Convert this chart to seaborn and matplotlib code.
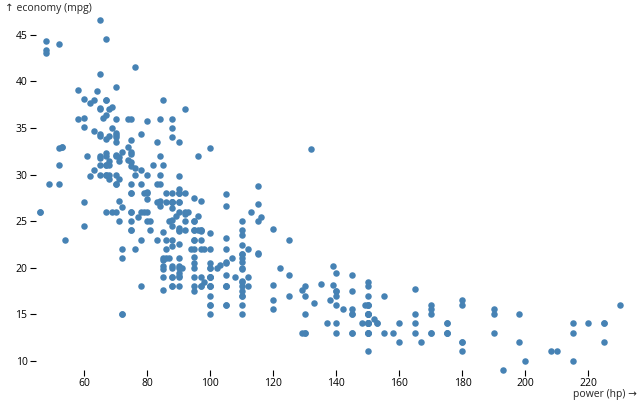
import numpy as np
import pandas as pd
import matplotlib
matplotlib.use("Agg")
import matplotlib.pyplot as plt
import seaborn as sns

# horsepower / mpg, cars with a known power and economy
horsepower = [
    130, 165, 150, 150, 140, 198, 220, 215, 225, 190, 170, 160, 150, 225, 95, 95, 97, 85, 88, 46,
    87, 90, 95, 113, 90, 215, 200, 210, 193, 88, 90, 95, 100, 105, 100, 88, 100, 165, 175, 153,
    150, 180, 170, 175, 110, 72, 100, 88, 86, 90, 70, 76, 65, 69, 60, 70, 95, 80, 54, 90,
    86, 165, 175, 150, 153, 150, 208, 155, 160, 190, 97, 150, 130, 140, 150, 112, 76, 87, 69, 86,
    92, 97, 80, 88, 175, 150, 145, 137, 150, 198, 150, 158, 150, 215, 225, 175, 105, 100, 100, 88,
    95, 46, 150, 167, 170, 180, 100, 88, 72, 94, 90, 85, 107, 90, 145, 230, 49, 75, 91, 112,
    150, 110, 122, 180, 95, 100, 100, 67, 80, 65, 75, 100, 110, 105, 140, 150, 150, 140, 150, 83,
    67, 78, 52, 61, 75, 75, 75, 97, 93, 67, 95, 105, 72, 72, 170, 145, 150, 148, 110, 105,
    110, 95, 110, 110, 129, 75, 83, 100, 78, 96, 71, 97, 97, 70, 90, 95, 88, 98, 115, 53,
    86, 81, 92, 79, 83, 140, 150, 120, 152, 100, 105, 81, 90, 52, 60, 70, 53, 100, 78, 110,
    95, 71, 70, 75, 72, 102, 150, 88, 108, 120, 180, 145, 130, 150, 68, 80, 58, 96, 70, 145,
    110, 145, 130, 110, 105, 100, 98, 180, 170, 190, 149, 78, 88, 75, 89, 63, 83, 67, 78, 97,
    110, 110, 48, 66, 52, 70, 60, 110, 140, 139, 105, 95, 85, 88, 100, 90, 105, 85, 110, 120,
    145, 165, 139, 140, 68, 95, 97, 75, 95, 105, 85, 97, 103, 125, 115, 133, 71, 68, 115, 85,
    88, 90, 110, 130, 129, 138, 135, 155, 142, 125, 150, 71, 65, 80, 80, 77, 125, 71, 90, 70,
    70, 65, 69, 90, 115, 115, 90, 76, 60, 70, 65, 90, 88, 90, 90, 78, 90, 75, 92, 75,
    65, 105, 65, 48, 48, 67, 67, 67, 67, 62, 132, 100, 88, 72, 84, 84, 92, 110, 84, 58,
    64, 60, 67, 65, 62, 68, 63, 65, 65, 74, 75, 75, 100, 74, 80, 76, 116, 120, 110, 105,
    88, 85, 88, 88, 88, 85, 84, 90, 92, 74, 68, 68, 63, 70, 88, 75, 70, 67, 67, 67,
    110, 85, 92, 112, 96, 84, 90, 86, 52, 84, 79, 82,
]
mpg = [
    18, 15, 18, 16, 17, 15, 14, 14, 14, 15, 15, 14, 15, 14, 24, 22, 18, 21, 27, 26,
    25, 24, 25, 26, 21, 10, 10, 11, 9, 27, 28, 25, 19, 16, 17, 19, 18, 14, 14, 14,
    14, 12, 13, 13, 18, 22, 19, 18, 23, 28, 30, 30, 31, 35, 27, 26, 24, 25, 23, 20,
    21, 13, 14, 15, 14, 17, 11, 13, 12, 13, 19, 15, 13, 13, 14, 18, 22, 21, 26, 22,
    28, 23, 28, 27, 13, 14, 13, 14, 15, 12, 13, 13, 14, 13, 12, 13, 18, 16, 18, 18,
    23, 26, 11, 12, 13, 12, 18, 20, 21, 22, 18, 19, 21, 26, 15, 16, 29, 24, 20, 19,
    15, 24, 20, 11, 20, 19, 15, 31, 26, 32, 25, 16, 16, 18, 16, 13, 14, 14, 14, 29,
    26, 26, 31, 32, 28, 24, 26, 24, 26, 31, 19, 18, 15, 15, 16, 15, 16, 14, 17, 16,
    15, 18, 21, 20, 13, 29, 23, 20, 23, 24, 25, 24, 18, 29, 19, 23, 23, 22, 25, 33,
    28, 25, 25, 26, 27, 17.5, 16, 15.5, 14.5, 22, 22, 24, 22.5, 29, 24.5, 29, 33, 20, 18, 18.5,
    17.5, 29.5, 32, 28, 26.5, 20, 13, 19, 19, 16.5, 16.5, 13, 13, 13, 31.5, 30, 36, 25.5, 33.5, 17.5,
    17, 15.5, 15, 17.5, 20.5, 19, 18.5, 16, 15.5, 15.5, 16, 29, 24.5, 26, 25.5, 30.5, 33.5, 30, 30.5, 22,
    21.5, 21.5, 43.1, 36.1, 32.8, 39.4, 36.1, 19.9, 19.4, 20.2, 19.2, 20.5, 20.2, 25.1, 20.5, 19.4, 20.6, 20.8, 18.6, 18.1,
    19.2, 17.7, 18.1, 17.5, 30, 27.5, 27.2, 30.9, 21.1, 23.2, 23.8, 23.9, 20.3, 17, 21.6, 16.2, 31.5, 29.5, 21.5, 19.8,
    22.3, 20.2, 20.6, 17, 17.6, 16.5, 18.2, 16.9, 15.5, 19.2, 18.5, 31.9, 34.1, 35.7, 27.4, 25.4, 23, 27.2, 23.9, 34.2,
    34.5, 31.8, 37.3, 28.4, 28.8, 26.8, 33.5, 41.5, 38.1, 32.1, 37.2, 28, 26.4, 24.3, 19.1, 34.3, 29.8, 31.3, 37, 32.2,
    46.6, 27.9, 40.8, 44.3, 43.4, 36.4, 30, 44.6, 33.8, 29.8, 32.7, 23.7, 35, 32.4, 27.2, 26.6, 25.8, 23.5, 30, 39.1,
    39, 35.1, 32.3, 37, 37.7, 34.1, 34.7, 34.4, 29.9, 33, 33.7, 32.4, 32.9, 31.6, 28.1, 30.7, 25.4, 24.2, 22.4, 26.6,
    20.2, 17.6, 28, 27, 34, 31, 29, 27, 24, 36, 37, 31, 38, 36, 36, 36, 34, 38, 32, 38,
    25, 38, 26, 22, 32, 36, 27, 27, 44, 32, 28, 31,
]

x_ticks = [60, 80, 100, 120, 140, 160, 180, 200, 220]
y_ticks = [10, 15, 20, 25, 30, 35, 40, 45]

df = pd.DataFrame({"power (hp)": horsepower, "economy (mpg)": mpg})

sns.set_style("white")
plt.rcParams["font.family"] = ["Open Sans", "DejaVu Sans"]
plt.rcParams["font.size"] = 7.5

fig = plt.figure(figsize=(6.4, 4), dpi=100)
ax = fig.add_axes([40 / 640, 30 / 400, 580 / 640, 350 / 400])

sns.scatterplot(data=df, x="power (hp)", y="economy (mpg)", ax=ax,
                color="#4682b4", s=22, linewidth=0, clip_on=False)

ax.set_xlim(min(horsepower), max(horsepower))
ax.set_ylim(min(mpg), max(mpg))
ax.set_xticks(x_ticks)
ax.set_yticks(y_ticks)
ax.set_xlabel("")
ax.set_ylabel("")
for s in ax.spines.values():
    s.set_visible(False)
ax.spines["left"].set_position(("outward", 3))
ax.tick_params(axis="y", left=True, direction="out", length=4, width=0.8,
               pad=2, labelsize=7.5, colors="black")
ax.tick_params(axis="x", bottom=True, direction="out", length=4, width=0.8,
               pad=2, labelsize=7.5, colors="black")

fig.text(5 / 640, 1 - 8 / 400, "↑ economy (mpg)", ha="left", va="center", fontsize=7.5)
fig.text(637 / 640, 1 - 394 / 400, "power (hp) →", ha="right", va="center", fontsize=7.5)

fig.savefig("out.png", dpi=100)
